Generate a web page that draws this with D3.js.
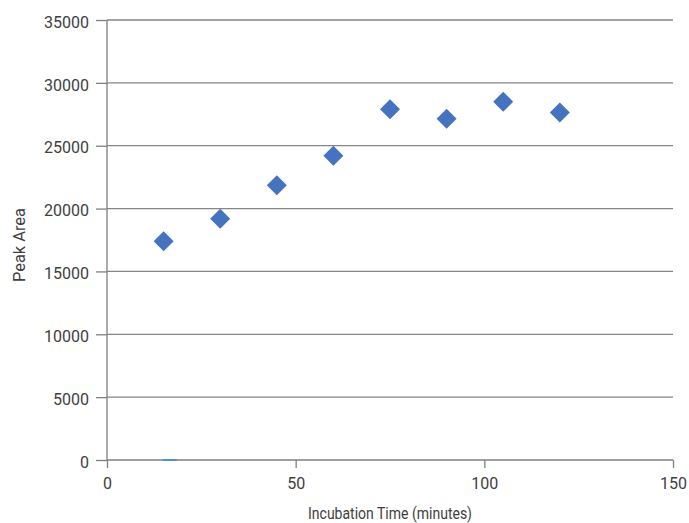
<!DOCTYPE html>
<html>
<head>
<meta charset="utf-8">
<script src="https://cdn.jsdelivr.net/npm/d3@7"></script>
<style>
  body { margin: 0; background: #fff; }
  text { font-family: Roboto, "Liberation Sans", sans-serif; fill: #404040; }
</style>
</head>
<body>
<div id="chart"></div>
<script>
// incubation time (minutes) vs peak area
const times = [15, 30, 45, 60, 75, 90, 105, 120];
const peakArea = [17400, 19200, 21850, 24200, 27900, 27150, 28500, 27650];
const stubX = [14.8, 18.5]; // small blue segment sitting on the x axis
const yTicks = [0, 5000, 10000, 15000, 20000, 25000, 30000, 35000];
const xTicks = [0, 50, 100, 150];

const W = 689, H = 523;
const svg = d3.select('#chart').append('svg').attr('width', W).attr('height', H);

const x = d3.scaleLinear().domain([0, 150]).range([107, 673]);
const y = d3.scaleLinear().domain([0, 35000]).range([460, 20]);

// gridlines
svg.append('g').selectAll('line').data(yTicks.slice(1)).join('line')
  .attr('x1', x(0)).attr('x2', x(150))
  .attr('y1', d => y(d)).attr('y2', d => y(d))
  .attr('stroke', '#868686').attr('stroke-width', 1.3);

const yAxis = svg.append('g').attr('transform', `translate(${x(0)},0)`)
  .call(d3.axisLeft(y).tickValues(yTicks).tickFormat(d3.format('d')).tickSize(11).tickPadding(7));
const xAxis = svg.append('g').attr('transform', `translate(0,${y(0)})`)
  .call(d3.axisBottom(x).tickValues(xTicks).tickFormat(d3.format('d')).tickSize(8).tickPadding(10));
[yAxis, xAxis].forEach(a => {
  a.select('.domain').attr('stroke', '#7f7f7f').attr('stroke-width', 1.3);
  a.selectAll('.tick line').attr('stroke', '#7f7f7f').attr('stroke-width', 1.3);
  a.selectAll('.tick text').attr('font-size', 16).style('fill', '#404040')
    .style('font-family', 'Roboto, sans-serif');
});
yAxis.select('.domain').attr('d', `M0,${y(0)}V${y(35000)}`);
xAxis.select('.domain').attr('d', `M${x(0)},0H${x(150)}`);
yAxis.selectAll('.tick text').attr('dy', '0.45em');

svg.append('line')
  .attr('x1', x(stubX[0])).attr('x2', x(stubX[1]))
  .attr('y1', y(0)).attr('y2', y(0))
  .attr('stroke', '#3a8fe0').attr('stroke-width', 1.6);

const diamond = d3.symbol().type(d3.symbolSquare).size(200);
svg.append('g').selectAll('path').data(times).join('path')
  .attr('d', diamond)
  .attr('transform', (d, i) => `translate(${x(d)},${y(peakArea[i])}) rotate(45)`)
  .attr('fill', '#4673bf');

// labels squeezed to mimic the condensed face of the original
svg.append('text').attr('x', 390).attr('y', 519).attr('text-anchor', 'middle')
  .attr('font-size', 16).attr('textLength', 164).attr('lengthAdjust', 'spacingAndGlyphs')
  .text('Incubation Time (minutes)');
svg.append('text').attr('transform', 'translate(25,245) rotate(-90)')
  .attr('text-anchor', 'middle').attr('font-size', 17)
  .attr('textLength', 74).attr('lengthAdjust', 'spacingAndGlyphs').text('Peak Area');
</script>
</body>
</html>
